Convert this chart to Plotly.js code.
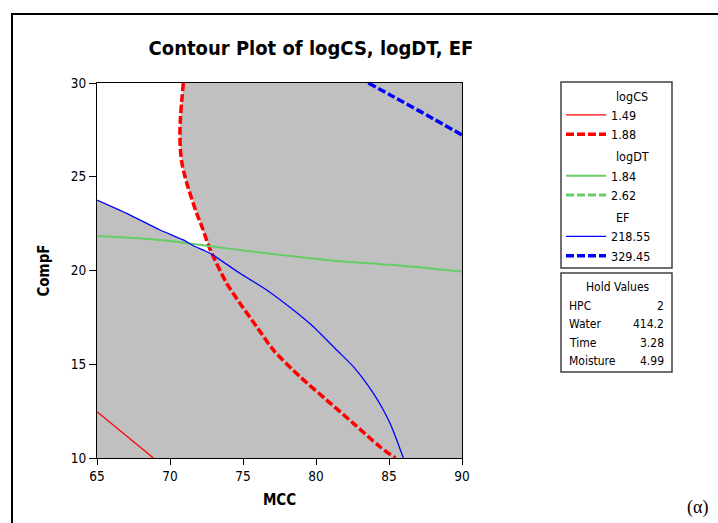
<!DOCTYPE html>
<html><head><meta charset="utf-8">
<script src="https://cdn.plot.ly/plotly-3.0.1.min.js"></script>
<style>html,body{margin:0;padding:0;background:#fff;}#chart{width:718px;height:523px;}</style>
</head><body><div id="chart"></div>
<script>
// ---------- data ----------
const chartTitle = 'Contour Plot of logCS, logDT, EF';
const xAxisTitle = 'MCC';
const yAxisTitle = 'CompF';
const xTicks = [65, 70, 75, 80, 85, 90];
const yTicks = [10, 15, 20, 25, 30];

const responseNames = ['logCS', 'logDT', 'EF'];
const csLevels = ['1.49', '1.88'];
const dtLevels = ['1.84', '2.62'];
const efLevels = ['218.55', '329.45'];

// logCS = 1.49
const csLowX = [65, 68.86];
const csLowY = [12.47, 10];
// logCS = 1.88
const csHighX = [70.91, 70.8, 70.72, 70.68, 70.7, 70.8, 71.03, 71.25, 71.5, 71.83, 72.25, 72.67, 73.08, 73.88, 74.79, 75.94, 77.08, 78.9, 80.73, 82.56, 84.38, 85.3, 85.45];
const csHighY = [30, 29, 28.2, 27.3, 26.6, 25.8, 25, 24.4, 23.8, 23.05, 22.2, 21.27, 20.56, 19.32, 18.25, 17.0, 15.76, 14.34, 13.09, 11.85, 10.6, 10.07, 10];
// logDT = 1.84
const dtLowX = [65, 69.32, 73.88, 80.73, 85.3, 90];
const dtLowY = [21.84, 21.63, 21.18, 20.56, 20.29, 19.94];
// logDT = 2.62 (outside the plotted region)
const dtHighX = [null];
const dtHighY = [null];
// EF = 218.55
const efLowX = [65, 67.03, 69.32, 70.91, 71.6, 72.74, 74.79, 76.62, 78.45, 79.82, 81.42, 82.56, 83.93, 84.61, 85.07, 85.53, 85.98];
const efLowY = [23.76, 23.05, 22.16, 21.63, 21.32, 20.92, 19.85, 18.96, 17.89, 17.0, 15.76, 14.87, 13.45, 12.56, 11.85, 10.96, 10];
// EF = 329.45
const efHighX = [83.58, 85.3, 87.58, 90];
const efHighY = [30, 29.27, 28.29, 27.23];

const holdTitle = 'Hold Values';
const holdNames = ['HPC', 'Water', 'Time', 'Moisture'];
const holdValues = ['2', '414.2', '3.28', '4.99'];
const captionText = '(α)';

// ---------- unshaded (feasible) region: above EF=218.55 and left of logCS=1.88 ----------
const cross = {x: 72.8, y: 20.9};
const wX = [], wY = [];
efLowX.forEach((x, i) => { if (x <= cross.x) { wX.push(x); wY.push(efLowY[i]); } });
wX.push(cross.x); wY.push(cross.y);
for (let i = csHighX.length - 1; i >= 0; i--) {
  if (csHighY[i] > cross.y) { wX.push(csHighX[i]); wY.push(csHighY[i]); }
}
wX.push(xTicks[0]); wY.push(yTicks[yTicks.length - 1]);

const FONT = 'DejaVu Sans Condensed, DejaVu Sans, Verdana, sans-serif';
const pad = '\u00a0'.repeat(14);

const traces = [
  {x: wX, y: wY, mode: 'lines', fill: 'toself', fillcolor: '#ffffff', line: {width: 0, color: 'rgba(0,0,0,0)'}, showlegend: false, hoverinfo: 'skip'},
  {x: csLowX, y: csLowY, name: csLevels[0], mode: 'lines', line: {color: '#ff0000', width: 1.3}, legendgroup: 'cs', legendgrouptitle: {text: pad + responseNames[0]}},
  {x: csHighX, y: csHighY, name: csLevels[1], mode: 'lines', line: {color: '#ff0000', width: 3.5, dash: '8px,3px', shape: 'spline', smoothing: 0.8}, legendgroup: 'cs'},
  {x: dtLowX, y: dtLowY, name: dtLevels[0], mode: 'lines', line: {color: '#66cc66', width: 2, shape: 'spline'}, legendgroup: 'dt', legendgrouptitle: {text: pad + responseNames[1]}},
  {x: dtHighX, y: dtHighY, name: dtLevels[1], mode: 'lines', line: {color: '#66cc66', width: 3, dash: '8px,3px'}, legendgroup: 'dt'},
  {x: efLowX, y: efLowY, name: efLevels[0], mode: 'lines', line: {color: '#0000ff', width: 1.3, shape: 'spline', smoothing: 0.6}, legendgroup: 'ef', legendgrouptitle: {text: pad + responseNames[2]}},
  {x: efHighX, y: efHighY, name: efLevels[1], mode: 'lines', line: {color: '#0000ff', width: 3.5, dash: '8px,3px', shape: 'spline'}, legendgroup: 'ef'}
];

// paper coordinates helpers (plot area: x 97..462 px, y 83..458 px)
const L = 97, R = 462, T = 83, B = 458;
const px = v => (v - L) / (R - L);
const py = v => (B - v) / (B - T);

const annotations = [
  {text: holdTitle, xref: 'paper', yref: 'paper', x: px(618), y: py(287), xanchor: 'center', yanchor: 'middle', showarrow: false, font: {family: FONT, size: 12, color: '#000'}},
  {text: captionText, xref: 'paper', yref: 'paper', x: px(697), y: py(507), xanchor: 'center', yanchor: 'middle', showarrow: false, font: {family: 'Liberation Serif, serif', size: 18, color: '#000'}}
];
const rowY = [306, 324, 342.7, 360.7];
holdNames.forEach((n, i) => {
  annotations.push({text: n, xref: 'paper', yref: 'paper', x: px(567), y: py(rowY[i]), xanchor: 'left', yanchor: 'middle', showarrow: false, font: {family: FONT, size: 12, color: '#000'}});
  annotations.push({text: holdValues[i], xref: 'paper', yref: 'paper', x: px(666), y: py(rowY[i]), xanchor: 'right', yanchor: 'middle', showarrow: false, font: {family: FONT, size: 12, color: '#000'}});
});

const shapes = [
  {type: 'rect', xref: 'paper', yref: 'paper', x0: px(561), x1: px(672), y0: py(82), y1: py(268), line: {color: '#404040', width: 1.5}},
  {type: 'rect', xref: 'paper', yref: 'paper', x0: px(561), x1: px(672), y0: py(273), y1: py(372), line: {color: '#404040', width: 1.5}},
  {type: 'line', xref: 'paper', yref: 'paper', x0: px(11), x1: px(720), y0: py(14), y1: py(14), line: {color: '#000', width: 2}},
  {type: 'line', xref: 'paper', yref: 'paper', x0: px(12), x1: px(12), y0: py(14), y1: py(525), line: {color: '#000', width: 2}}
];

const layout = {
  width: 718, height: 523,
  margin: {l: L, r: 718 - R, t: T, b: 523 - B, pad: 0},
  paper_bgcolor: '#ffffff',
  plot_bgcolor: '#c0c0c0',
  title: {text: chartTitle, x: 311 / 718, xref: 'container', xanchor: 'center', y: 1 - 48 / 523, yref: 'container', yanchor: 'middle', font: {family: FONT, size: 20, color: '#000', weight: 'bold'}},
  xaxis: {range: [65, 90], tickvals: xTicks, ticks: 'outside', ticklen: 6, tickcolor: '#000', showline: true, linecolor: '#000', linewidth: 1, mirror: true, showgrid: false, zeroline: false,
    tickfont: {family: FONT, size: 13.5, color: '#000'},
    title: {text: xAxisTitle, standoff: 11, font: {family: FONT, size: 15, color: '#000', weight: 'bold'}}},
  yaxis: {range: [10, 30], tickvals: yTicks, ticks: 'outside', ticklen: 7, tickcolor: '#000', showline: true, linecolor: '#000', linewidth: 1, mirror: true, showgrid: false, zeroline: false,
    tickfont: {family: FONT, size: 13.5, color: '#000'},
    title: {text: yAxisTitle, standoff: 17, font: {family: FONT, size: 15, color: '#000', weight: 'bold'}}},
  showlegend: true,
  legend: {x: px(561), y: py(81), xanchor: 'left', yanchor: 'top', bgcolor: 'rgba(0,0,0,0)', borderwidth: 0,
    traceorder: 'grouped', tracegroupgap: 3, itemwidth: 40, itemclick: false, itemdoubleclick: false,
    font: {family: FONT, size: 12.5, color: '#000'}, grouptitlefont: {family: FONT, size: 12.5, color: '#000'}},
  shapes: shapes,
  annotations: annotations
};

Plotly.newPlot('chart', traces, layout, {displayModeBar: false, staticPlot: true});
</script>
</body></html>
